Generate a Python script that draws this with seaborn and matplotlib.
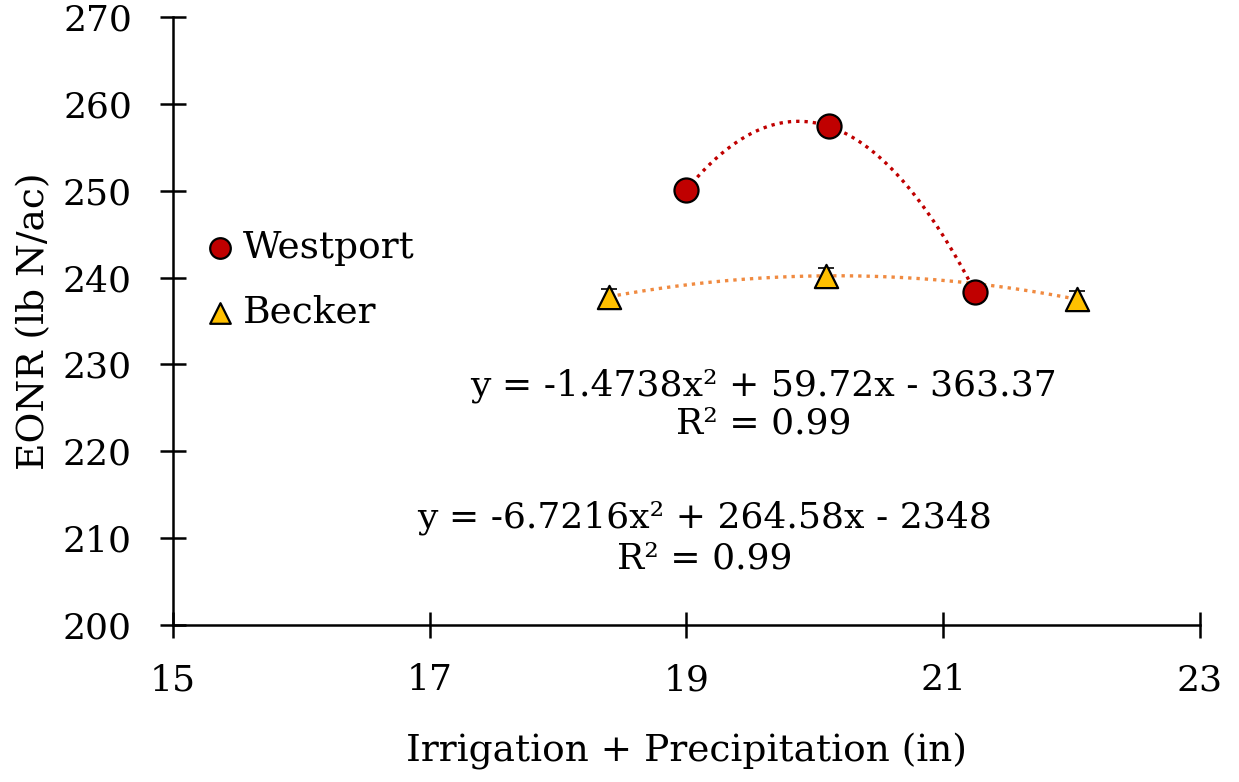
import numpy as np
import matplotlib
matplotlib.use("Agg")
import matplotlib.pyplot as plt
import seaborn as sns
import pandas as pd

sns.set_style("white")
plt.rcParams['font.family'] = ['DejaVu Serif']
plt.rcParams['text.color'] = 'black'
plt.rcParams['axes.labelcolor'] = 'black'

# Data
west_x = [19.0, 20.11, 21.25]
west_y = [250.1, 257.4, 238.3]
beck_x = [18.40, 20.09, 22.04]
beck_y = [237.8, 240.2, 237.5]
beck_err = [0.9, 0.9, 0.9]
eq_west = "y = -6.7216x² + 264.58x - 2348\nR² = 0.99"
eq_beck = "y = -1.4738x² + 59.72x - 363.37\nR² = 0.99"
xticks = [15, 17, 19, 21, 23]
yticks = [200, 210, 220, 230, 240, 250, 260, 270]

fig = plt.figure(figsize=(12.39, 7.82), dpi=100)
ax = fig.add_axes([0.1396, 0.2008, 0.8289, 0.7775])

# trend lines
pw = np.polyfit(west_x, west_y, 2)
pb = np.polyfit(beck_x, beck_y, 2)
xw = np.linspace(min(west_x), max(west_x), 200)
xb = np.linspace(min(beck_x), max(beck_x), 200)
sns.lineplot(x=xw, y=np.polyval(pw, xw), ax=ax, color='#C00000', lw=2.4,
             linestyle=(0, (1, 1.5)), zorder=2)
sns.lineplot(x=xb, y=np.polyval(pb, xb), ax=ax, color='#F08A40', lw=2.4,
             linestyle=(0, (1, 1.5)), zorder=2)

ax.errorbar(beck_x, beck_y, yerr=beck_err, fmt='none', ecolor='black',
            elinewidth=1.2, capsize=6, capthick=1.2, zorder=3)

dfw = pd.DataFrame({'x': west_x, 'y': west_y})
dfb = pd.DataFrame({'x': beck_x, 'y': beck_y})
sns.scatterplot(data=dfw, x='x', y='y', ax=ax, marker='o', s=300,
                color='#C00000', edgecolor='black', linewidth=1.6,
                label='Westport', zorder=4)
sns.scatterplot(data=dfb, x='x', y='y', ax=ax, marker='^', s=280,
                color='#FFC000', edgecolor='black', linewidth=1.6,
                label='Becker', zorder=4)

ax.set_xlim(15, 23)
ax.set_ylim(200, 270)
ax.set_xticks(xticks)
ax.set_yticks(yticks)
ax.tick_params(axis='both', which='major', bottom=True, left=True,
               direction='inout', length=19, width=1.8,
               labelsize=26, colors='black')
ax.tick_params(axis='x', pad=18)
ax.tick_params(axis='y', pad=20)
for s in ['top', 'right']:
    ax.spines[s].set_visible(False)
for s in ['left', 'bottom']:
    ax.spines[s].set_linewidth(1.8)
    ax.spines[s].set_color('black')

ax.set_xlabel('Irrigation + Precipitation (in)', fontsize=27, labelpad=26)
ax.set_ylabel('EONR (lb N/ac)', fontsize=27, labelpad=8)

ax.text(19.6, 225.4, eq_beck, ha='center', va='center', fontsize=26,
        linespacing=1.15)
ax.text(19.14, 210.0, eq_west, ha='center', va='center', fontsize=26,
        linespacing=1.25)

leg = ax.legend(loc='center left', bbox_to_anchor=(0.035, 0.567), frameon=False,
                fontsize=27, handlelength=0.6, handletextpad=0.3,
                labelspacing=0.77, borderpad=0, borderaxespad=0)
for h in leg.legend_handles:
    h.set_sizes([220])

fig.savefig('out.png', dpi=100)
